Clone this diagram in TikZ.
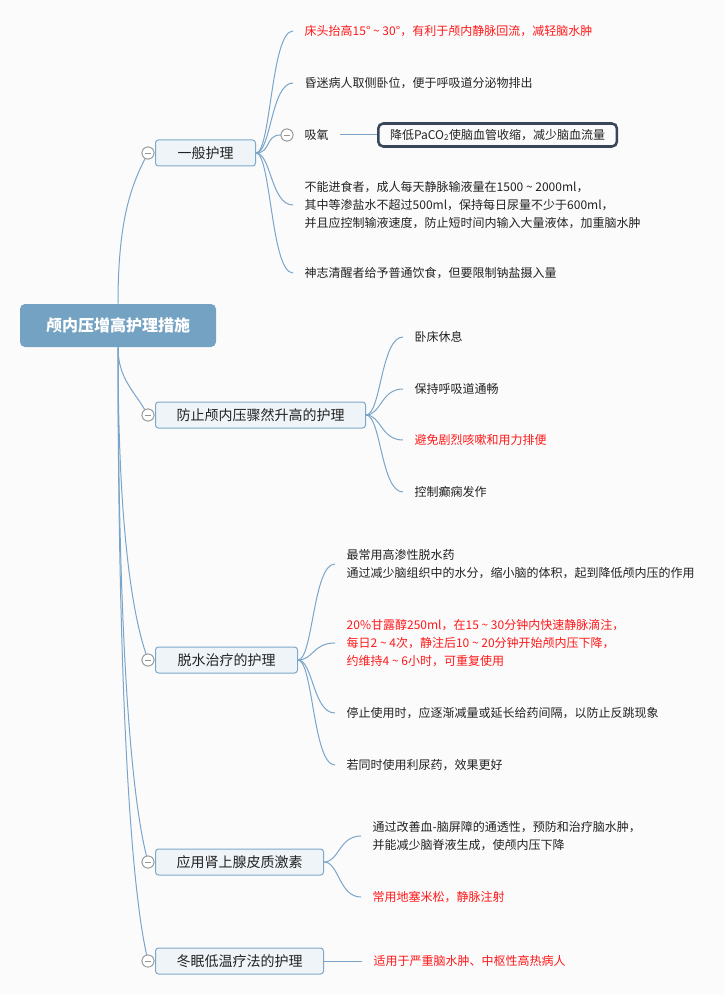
\documentclass[tikz,border=0pt]{standalone}
\usepackage{fontspec}
\setmainfont{Noto Sans CJK SC}
\usetikzlibrary{calc}
\definecolor{bg}{RGB}{251,251,252}
\definecolor{conn}{RGB}{122,165,200}
\definecolor{rootfill}{RGB}{116,162,194}
\definecolor{boxfill}{RGB}{239,244,248}
\definecolor{boxdraw}{RGB}{125,168,200}
\definecolor{txt}{RGB}{34,34,34}
\definecolor{redtxt}{RGB}{255,25,25}
\definecolor{darkedge}{RGB}{55,71,89}
\definecolor{cgray}{RGB}{150,150,150}
\newcommand{\tildesep}{\makebox[9pt]{\char"7E}}
\begin{document}
\begin{tikzpicture}[x=0.75pt,y=-0.75pt,
 rootbox/.style={rectangle, rounded corners=3.75pt, fill=rootfill, text=white,
   font=\fontsize{12pt}{14pt}\selectfont\bfseries, minimum width=147pt, minimum height=32.25pt, inner sep=0pt},
 topic/.style={rectangle, rounded corners=2.25pt, fill=boxfill, draw=boxdraw, line width=0.75pt, text=txt,
   font=\fontsize{10.5pt}{13pt}\selectfont, minimum height=19.5pt, inner sep=0pt, anchor=west},
 leaf/.style={anchor=west, align=left, inner xsep=8.6pt, inner ysep=0pt, text=txt,
   font=\fontsize{9pt}{13.5pt}\selectfont},
 redleaf/.style={leaf, text=redtxt},
 oxbox/.style={rectangle, anchor=west, rounded corners=3.75pt, draw=darkedge, line width=1.9pt, fill=bg, text=txt,
   font=\fontsize{9pt}{13.5pt}\selectfont, minimum width=179pt, minimum height=17.25pt, inner sep=0pt},
 link/.style={draw=conn, line width=0.75pt},
 fold/.style={circle, draw=cgray, fill=white, line width=0.6pt, minimum size=9pt, inner sep=0pt,
   path picture={\draw[cgray, line width=0.6pt] ([xshift=-2.6pt]path picture bounding box.center) -- ([xshift=2.6pt]path picture bounding box.center);}},
]
\fill[bg] (0,0) rectangle (725,995);
\useasboundingbox (0,0) rectangle (725,995);

% root
\node[rootbox] (root) at (118,325.5) {颅内压增高护理措施};

% topics
\node[topic, minimum width=75pt] (t1) at (155,153) {一般护理};
\node[topic, minimum width=157.5pt] (t2) at (155,415) {防止颅内压骤然升高的护理};
\node[topic, minimum width=106.5pt] (t3) at (155,660) {脱水治疗的护理};
\node[topic, minimum width=126pt] (t4) at (155,862) {应用肾上腺皮质激素};
\node[topic, minimum width=126pt] (t5) at (155,961) {冬眠低温疗法的护理};

% leaves of t1
\node[redleaf] (l11) at (293,31) {床头抬高15°\tildesep30°，有利于颅内静脉回流，减轻脑水肿};
\node[leaf] (l12) at (293,83) {昏迷病人取侧卧位，便于呼吸道分泌物排出};
\node[leaf] (l13) at (293,135) {吸氧};
\node[oxbox] (ox) at (377,135) {降低PaCO\textsubscript{2}使脑血管收缩，减少脑血流量};
\node[leaf] (l14) at (293,205) {不能进食者，成人每天静脉输液量在1500\tildesep2000ml，\\其中等渗盐水不超过500ml，保持每日尿量不少于600ml，\\并且应控制输液速度，防止短时间内输入大量液体，加重脑水肿};
\node[leaf] (l15) at (293,273) {神志清醒者给予普通饮食，但要限制钠盐摄入量};

% leaves of t2
\node[leaf] (l21) at (403,337) {卧床休息};
\node[leaf] (l22) at (403,389) {保持呼吸道通畅};
\node[redleaf] (l23) at (403,440) {避免剧烈咳嗽和用力排便};
\node[leaf] (l24) at (403,492) {控制癫痫发作};

% leaves of t3
\node[leaf] (l31) at (335,564) {最常用高渗性脱水药\\通过减少脑组织中的水分，缩小脑的体积，起到降低颅内压的作用};
\node[redleaf] (l32) at (335,643) {20\%甘露醇250ml，在15\tildesep30分钟内快速静脉滴注，\\每日2\tildesep4次，静注后10\tildesep20分钟开始颅内压下降，\\约维持4\tildesep6小时，可重复使用};
\node[leaf] (l33) at (335,713) {停止使用时，应逐渐减量或延长给药间隔，以防止反跳现象};
\node[leaf] (l34) at (335,765) {若同时使用利尿药，效果更好};

% leaves of t4
\node[leaf] (l41) at (361,836) {通过改善血-脑屏障的通透性，预防和治疗脑水肿，\\并能减少脑脊液生成，使颅内压下降};
\node[redleaf] (l42) at (361,897) {常用地塞米松，静脉注射};

% leaf of t5
\node[redleaf] (l51) at (362,961) {适用于严重脑水肿、中枢性高热病人};

% fold markers
\node[fold] (f1) at (148,153) {};
\node[fold] (f2) at (148,415) {};
\node[fold] (f3) at (148,660) {};
\node[fold] (f4) at (148,862) {};
\node[fold] (f5) at (148,961) {};
\node[fold] (f13) at (287,135) {};

% connectors root -> topics
\draw[link] (root.north) .. controls +(0,-80) and +(-18,35) .. (f1);
\draw[link] (root.south) .. controls +(0,30) and +(-15,-25) .. (f2);
\draw[link] (root.south) .. controls +(0,150) and +(-20,-60) .. (f3);
\draw[link] (root.south) .. controls +(0,250) and +(-20,-80) .. (f4);
\draw[link] (root.south) .. controls +(0,300) and +(-20,-90) .. (f5);

% t1
\draw[link] (t1.east) .. controls +(15,0) and +(-22,0) .. (l11.west);
\draw[link] (t1.east) .. controls +(15,0) and +(-22,0) .. (l12.west);
\draw[link] (t1.east) .. controls +(15,0) and +(-22,0) .. (f13);
\draw[link] (t1.east) .. controls +(15,0) and +(-22,0) .. (l14.west);
\draw[link] (t1.east) .. controls +(15,0) and +(-22,0) .. (l15.west);
\draw[link] (l13.east) -- (ox.west);

% t2
\draw[link] (t2.east) .. controls +(15,0) and +(-22,0) .. (l21.west);
\draw[link] (t2.east) .. controls +(15,0) and +(-22,0) .. (l22.west);
\draw[link] (t2.east) .. controls +(15,0) and +(-22,0) .. (l23.west);
\draw[link] (t2.east) .. controls +(15,0) and +(-22,0) .. (l24.west);

% t3
\draw[link] (t3.east) .. controls +(15,0) and +(-22,0) .. (l31.west);
\draw[link] (t3.east) .. controls +(15,0) and +(-22,0) .. (l32.west);
\draw[link] (t3.east) .. controls +(15,0) and +(-22,0) .. (l33.west);
\draw[link] (t3.east) .. controls +(15,0) and +(-22,0) .. (l34.west);

% t4
\draw[link] (t4.east) .. controls +(15,0) and +(-22,0) .. (l41.west);
\draw[link] (t4.east) .. controls +(15,0) and +(-22,0) .. (l42.west);

% t5
\draw[link] (t5.east) -- (l51.west);

% fold markers on top of connectors
\node[fold] at (f1) {};
\node[fold] at (f2) {};
\node[fold] at (f3) {};
\node[fold] at (f4) {};
\node[fold] at (f5) {};
\node[fold] at (f13) {};
\end{tikzpicture}
\end{document}
